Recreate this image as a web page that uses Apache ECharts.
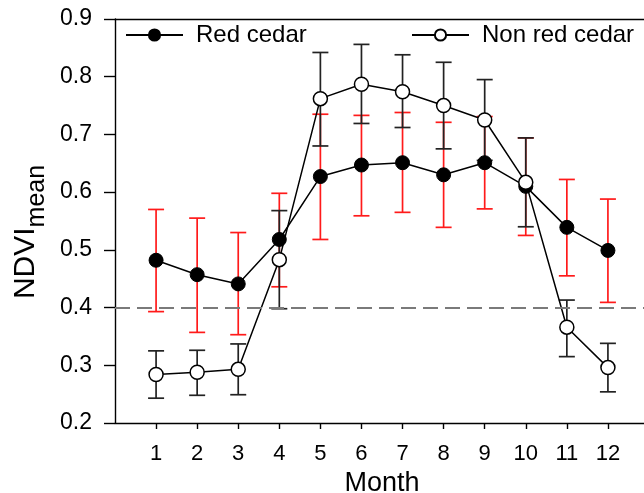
<!DOCTYPE html>
<html>
<head>
<meta charset="utf-8">
<script src="https://cdn.jsdelivr.net/npm/echarts@6/dist/echarts.min.js"></script>
<style>
  html, body { margin: 0; padding: 0; background: #fff; }
  #chart { width: 644px; height: 493px; }
</style>
</head>
<body>
<div id="chart"></div>
<script>
var months = [1, 2, 3, 4, 5, 6, 7, 8, 9, 10, 11, 12];

var redMean = [0.482, 0.457, 0.441, 0.518, 0.627, 0.647, 0.651, 0.630, 0.651, 0.610, 0.539, 0.499];
var redLow  = [0.393, 0.357, 0.353, 0.436, 0.518, 0.559, 0.565, 0.539, 0.571, 0.525, 0.455, 0.409];
var redHigh = [0.570, 0.555, 0.530, 0.598, 0.735, 0.733, 0.738, 0.721, 0.731, 0.694, 0.622, 0.588];

var nonMean = [0.284, 0.288, 0.293, 0.483, 0.762, 0.787, 0.774, 0.750, 0.725, 0.617, 0.366, 0.296];
var nonLow  = [0.243, 0.248, 0.249, 0.398, 0.680, 0.719, 0.712, 0.675, 0.655, 0.540, 0.315, 0.254];
var nonHigh = [0.325, 0.326, 0.337, 0.568, 0.842, 0.856, 0.838, 0.825, 0.795, 0.694, 0.413, 0.338];

var threshold = 0.4;

(function () {
  var myChart = echarts.init(document.getElementById('chart'));
  var font = 'Liberation Sans, Arial, sans-serif';

  function pairs(vals) {
    return months.map(function (m, i) { return [m, vals[i]]; });
  }
  function triples(lo, hi) {
    return months.map(function (m, i) { return [m, lo[i], hi[i]]; });
  }
  // error bar: vertical line + two caps
  function errBar(color) {
    return function (params, api) {
      var x = api.value(0);
      var lo = api.coord([x, api.value(1)]);
      var hi = api.coord([x, api.value(2)]);
      var w = 8;
      var st = { stroke: color, lineWidth: 1.7 };
      return {
        type: 'group',
        children: [
          { type: 'line', shape: { x1: lo[0], y1: lo[1], x2: hi[0], y2: hi[1] }, style: st },
          { type: 'line', shape: { x1: lo[0] - w, y1: lo[1], x2: lo[0] + w, y2: lo[1] }, style: st },
          { type: 'line', shape: { x1: hi[0] - w, y1: hi[1], x2: hi[0] + w, y2: hi[1] }, style: st }
        ]
      };
    };
  }

  var option = {
    animation: false,
    backgroundColor: '#fff',
    textStyle: { fontFamily: font },
    grid: { left: 115, top: 19, width: 534, height: 404, outerBoundsMode: 'none', containLabel: false },
    legend: [{
      left: 120, top: 18,
      itemWidth: 57, itemHeight: 14,
      data: ['Red cedar'],
      textStyle: { fontSize: 24, color: '#000', fontFamily: font, padding: [0, 0, 0, 8] }
    }, {
      left: 406, top: 18,
      itemWidth: 57, itemHeight: 14,
      data: ['Non red cedar'],
      textStyle: { fontSize: 24, color: '#000', fontFamily: font, padding: [0, 0, 0, 8] }
    }],
    xAxis: [{
      type: 'value', min: 0, max: 13, interval: 1,
      name: 'Month', nameLocation: 'middle', nameGap: 44,
      nameTextStyle: { fontSize: 27, color: '#000', fontFamily: font },
      axisLine: { lineStyle: { color: '#000', width: 1.4 } },
      axisTick: { customValues: months, length: 6, inside: false, lineStyle: { color: '#000', width: 1.4 } },
      axisLabel: { customValues: months, fontSize: 22, color: '#000', margin: 20, fontFamily: font },
      splitLine: { show: false }
    }, {
      type: 'value', min: 0, max: 13, position: 'top',
      axisLine: { show: true, onZero: false, lineStyle: { color: '#000', width: 1.4 } },
      axisTick: { show: false }, axisLabel: { show: false }, splitLine: { show: false }
    }],
    yAxis: {
      type: 'value', min: 0.2, max: 0.9, interval: 0.1,
      name: '{a|NDVI}{b|mean}', nameLocation: 'middle', nameGap: 63, nameRotate: 90,
      nameTextStyle: {
        color: '#000',
        rich: {
          a: { fontSize: 30, fontFamily: font, color: '#000', verticalAlign: 'top', lineHeight: 38 },
          b: { fontSize: 25, fontFamily: font, color: '#000', verticalAlign: 'bottom', lineHeight: 38, padding: [0, 22, 0, 0] }
        }
      },
      axisLine: { show: true, lineStyle: { color: '#000', width: 1.4 } },
      axisTick: { show: true, length: 11, lineStyle: { color: '#000', width: 1.4 } },
      axisLabel: {
        fontSize: 23, color: '#000', margin: 23, fontFamily: font,
        formatter: function (v) { return v.toFixed(1); }
      },
      splitLine: { show: false }
    },
    series: [{
      type: 'custom',
      renderItem: errBar('#ff1a1a'),
      encode: { x: 0, y: [1, 2] },
      data: triples(redLow, redHigh),
      z: 1, silent: true
    }, {
      type: 'custom',
      renderItem: errBar('#222'),
      encode: { x: 0, y: [1, 2] },
      data: triples(nonLow, nonHigh),
      z: 1, silent: true
    }, {
      name: 'Red cedar',
      type: 'line',
      data: pairs(redMean),
      symbol: 'circle', symbolSize: 14,
      lineStyle: { color: '#000', width: 1.5 },
      itemStyle: { color: '#000', borderColor: '#000', borderWidth: 1 },
      z: 3,
      markLine: {
        silent: true, symbol: 'none', label: { show: false },
        lineStyle: { color: '#7a7a7a', type: [15, 7], width: 2.2 },
        data: [{ yAxis: threshold }]
      }
    }, {
      name: 'Non red cedar',
      type: 'line',
      data: pairs(nonMean),
      symbol: 'circle', symbolSize: 14,
      lineStyle: { color: '#000', width: 1.5 },
      itemStyle: { color: '#fff', borderColor: '#000', borderWidth: 1.5 },
      z: 4
    }]
  };

  myChart.setOption(option);
  window.addEventListener('resize', function () {
    myChart.resize();
  });
})();
</script>
</body>
</html>
